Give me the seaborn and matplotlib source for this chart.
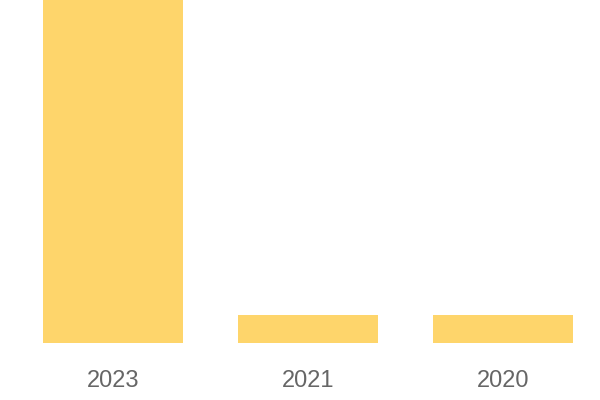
import seaborn as sns
import pandas as pd
import matplotlib.pyplot as plt

years = ["2023", "2021", "2020"]
values = [49, 4, 4]

sns.set_style("white")
plt.rcParams["font.family"] = ["Liberation Sans", "DejaVu Sans"]

df = pd.DataFrame({"year": years, "value": values})

fig = plt.figure(figsize=(6, 4), dpi=100)
ax = fig.add_axes([15.5 / 600, 57 / 400, 585 / 600, 343 / 400])
sns.barplot(data=df, x="year", y="value", color="#FED56B", saturation=1,
            width=140 / 195, linewidth=0, ax=ax)
ax.set_ylim(0, max(values))
ax.set_xlim(-0.5, len(years) - 0.5)
ax.set_xlabel("")
ax.set_ylabel("")
ax.set_yticks([])
ax.tick_params(axis="x", length=0, pad=19.5, labelsize=17, labelcolor="#666666")
sns.despine(ax=ax, left=True, bottom=True)

fig.savefig("out.png", dpi=100)
